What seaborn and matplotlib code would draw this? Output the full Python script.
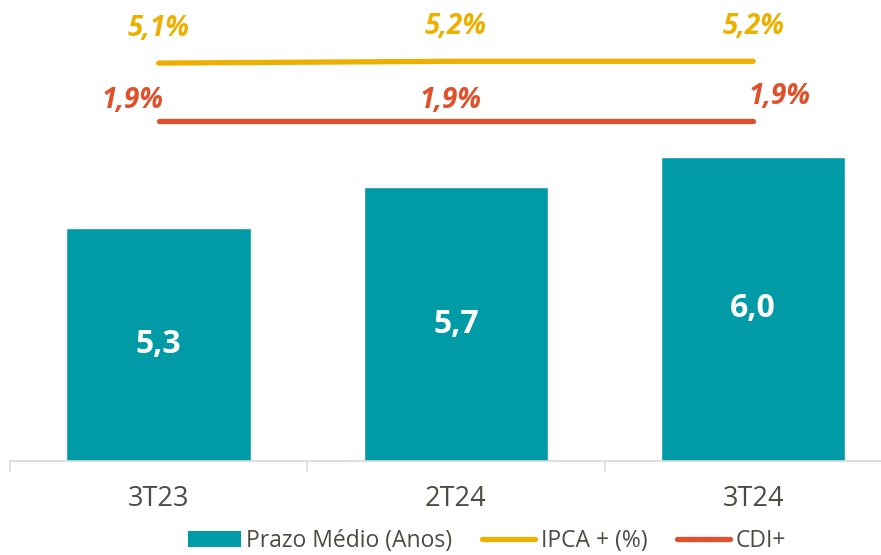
import matplotlib.pyplot as plt
import seaborn as sns
import numpy as np
from matplotlib.patches import Patch
from matplotlib.lines import Line2D

periods = ["3T23", "2T24", "3T24"]
prazo_medio = [5.3, 5.7, 6.0]
ipca = [5.1, 5.2, 5.2]
cdi = [1.9, 1.9, 1.9]
ipca_labels = ["5,1%", "5,2%", "5,2%"]
cdi_labels = ["1,9%", "1,9%", "1,9%"]
bar_labels = ["5,3", "5,7", "6,0"]

teal = "#009BA6"
yellow = "#EEB000"
red = "#E0502A"
text_col = "#4F4A42"

sns.set_theme(style="white")
plt.rcParams["font.family"] = ["Open Sans", "DejaVu Sans"]

fig = plt.figure(figsize=(8.81, 5.55), dpi=100)
ax = fig.add_axes([10 / 881, 1 - 461 / 555, 1 - 10 / 881, 461 / 555])

sns.barplot(x=periods, y=prazo_medio, color=teal, width=0.62, saturation=1, ax=ax)
ymin = 3.0
ax.set_ylim(ymin, ymin + 461 / 101.4)
ax.set_xlim(-0.5, 2.43)

for i, v in enumerate(prazo_medio):
    ax.text(i, (ymin + v) / 2, bar_labels[i], color="white", fontsize=23,
            fontweight="bold", ha="center", va="center")

ax2 = ax.twinx()
x = np.arange(len(periods))
sns.lineplot(x=x, y=ipca, color=yellow, lw=3.8, ax=ax2, solid_capstyle="round")
sns.lineplot(x=x, y=cdi, color=red, lw=3.8, ax=ax2, solid_capstyle="round")
ax2.set_ylim(1.9 - 340 / 18.1, 1.9 + 121 / 18.1)
ax2.set_xlim(-0.5, 2.43)
ax2.set_yticks([])
ax2.set_ylabel("")

cdi_dx = [-19, -4, 19]
cdi_dy = [15, 15, 18]
for i in range(len(periods)):
    ax2.annotate(ipca_labels[i], (i, ipca[i]), xytext=(0, 25), textcoords="offset points",
                 ha="center", va="center", color=yellow, fontsize=20,
                 fontweight="bold", fontstyle="italic")
    ax2.annotate(cdi_labels[i], (i, cdi[i]), xytext=(cdi_dx[i], cdi_dy[i]),
                 textcoords="offset points", ha="center", va="center", color=red,
                 fontsize=20, fontweight="bold", fontstyle="italic")

for a in (ax, ax2):
    for s in ["top", "right", "left"]:
        a.spines[s].set_visible(False)
ax2.spines["bottom"].set_visible(False)
ax.spines["bottom"].set_color("#D9D9D9")
ax.spines["bottom"].set_linewidth(1.2)
ax.set_yticks([])
ax.set_xticks([0, 1, 2])
ax.set_xticklabels(periods, fontsize=19.5, color=text_col)
ax.tick_params(axis="x", length=0, pad=17)
for b in [-0.5, 0.5, 1.5]:
    ax.plot([b, b], [0, -0.022], transform=ax.get_xaxis_transform(), color="#D9D9D9",
            lw=1.2, clip_on=False)

handles = [
    Patch(facecolor=teal, edgecolor="none"),
    Line2D([0], [0], color=yellow, lw=3.8, solid_capstyle="round"),
    Line2D([0], [0], color=red, lw=3.8, solid_capstyle="round"),
]
fig.legend(handles, ["Prazo Médio (Anos)", "IPCA + (%)", "CDI+"], loc="center",
           bbox_to_anchor=(487 / 881, 1 - 541 / 555), ncol=3, frameon=False,
           fontsize=16.5, labelcolor=text_col, handlelength=2.3, handletextpad=0.25,
           columnspacing=1.3)

fig.savefig("out.png", dpi=100)
